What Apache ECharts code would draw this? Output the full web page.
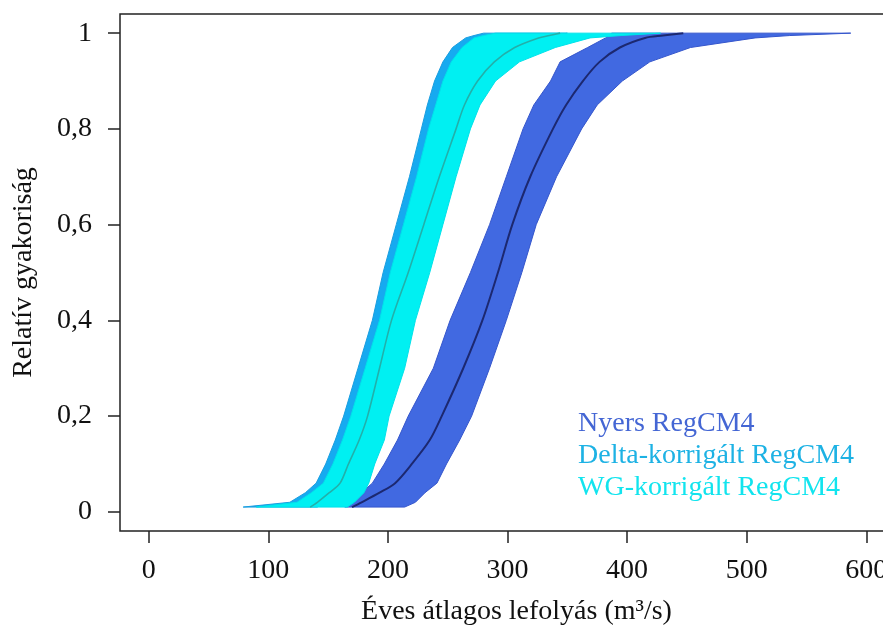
<!DOCTYPE html>
<html>
<head>
<meta charset="utf-8">
<script src="https://cdn.jsdelivr.net/npm/echarts@6/dist/echarts.min.js"></script>
<style>
  html, body { margin: 0; background: #fff; }
  #chart { width: 883px; height: 636px; }
</style>
</head>
<body>
<div id="chart"></div>
<script>
// relative frequency levels at which the band edges were read
const probs = [0.01, 0.02, 0.04, 0.06, 0.1, 0.15, 0.2, 0.3, 0.4, 0.5, 0.6, 0.7, 0.8, 0.85, 0.9, 0.94, 0.97, 0.99, 0.995, 1];

// Nyers RegCM4: left / right envelope of the ensemble and its mean curve (m3/s)
const nyersLow  = [164, 170, 178, 187, 197, 208, 217, 238, 252, 269, 285, 299, 313, 322, 336, 344, 367, 382, 385, 387];
const nyersHigh = [214, 223, 231, 241, 249, 260, 270, 285, 299, 312, 324, 341, 362, 375, 396, 419, 453, 507, 536, 587];
const nyersMean = [170, 178, 193, 206, 220, 235, 245, 263, 279, 292, 304, 319, 338, 349, 363, 377, 394, 415, 430, 447];

// Delta-korrigált RegCM4 (mostly hidden under the WG band)
const deltaLow  = [79, 118, 131, 140, 148, 156, 163, 175, 187, 196, 207, 218, 228, 233, 239, 246, 254, 265, 272, 280];
const deltaHigh = [141, 147, 157, 166, 173, 182, 189, 199, 209, 223, 236, 249, 263, 270, 281, 295, 312, 332, 341, 350];

// WG-korrigált RegCM4
const wgLow  = [90, 124, 136, 146, 154, 162, 169, 181, 193, 202, 213, 224, 234, 240, 246, 253, 262, 272, 280, 290];
const wgHigh = [166, 172, 180, 184, 189, 197, 201, 214, 223, 235, 246, 257, 269, 277, 290, 310, 340, 369, 395, 428];
const wgMean = [135, 141, 151, 160, 167, 176, 183, 193, 203, 217, 230, 243, 257, 264, 275, 289, 306, 326, 335, 344];

const xTicks = [0, 100, 200, 300, 400, 500, 600];
const yTicks = [0, 0.2, 0.4, 0.6, 0.8, 1];

const FONT = '"Liberation Serif", "Times New Roman", serif';

function band(name, low, high, fill, stroke) {
  return {
    type: 'custom',
    name: name,
    silent: true,
    clip: true,
    data: [[low[0], probs[0]]],
    renderItem: function (params, api) {
      const pts = [];
      for (let i = 0; i < probs.length; i++) pts.push(api.coord([low[i], probs[i]]));
      for (let i = probs.length - 1; i >= 0; i--) pts.push(api.coord([high[i], probs[i]]));
      return {
        type: 'polygon',
        shape: { points: pts },
        style: { fill: fill, stroke: stroke, lineWidth: 1 }
      };
    }
  };
}

function meanLine(name, vals, color, width) {
  return {
    type: 'line',
    name: name,
    silent: true,
    showSymbol: false,
    smooth: 0.3,
    data: probs.map((p, i) => [vals[i], p]),
    lineStyle: { color: color, width: width }
  };
}

const chart = echarts.init(document.getElementById('chart'), null, { renderer: 'canvas' });
chart.setOption({
  backgroundColor: '#fff',
  animation: false,
  grid: {
    left: 120, top: 14, right: -12, bottom: 105,
    show: true, borderColor: '#222', borderWidth: 1.5,
    containLabel: false, outerBoundsMode: 'none'
  },
  xAxis: {
    type: 'value', min: -24, max: 624,
    axisLine: { show: false, onZero: false },
    splitLine: { show: false },
    axisTick: { show: true, customValues: xTicks, length: 12, lineStyle: { color: '#222', width: 1.5 } },
    axisLabel: { customValues: xTicks, margin: 26, fontSize: 28, fontFamily: FONT, color: '#111' },
    name: 'Éves átlagos lefolyás (m³/s)',
    nameLocation: 'middle', nameGap: 67,
    nameTextStyle: { fontSize: 28, fontFamily: FONT, color: '#111', padding: [0, 0, 0, 18] }
  },
  yAxis: {
    type: 'value', min: -0.04, max: 1.04,
    axisLine: { show: false, onZero: false },
    splitLine: { show: false },
    axisTick: { show: true, customValues: yTicks, length: 12, lineStyle: { color: '#222', width: 1.5 } },
    axisLabel: {
      customValues: yTicks, margin: 28, fontSize: 28, fontFamily: FONT, color: '#111',
      formatter: v => String(v).replace('.', ',')
    },
    name: 'Relatív gyakoriság',
    nameLocation: 'middle', nameGap: 82,
    nameTextStyle: { fontSize: 28, fontFamily: FONT, color: '#111' }
  },
  series: [
    band('Nyers RegCM4', nyersLow, nyersHigh, '#4169E1', '#3556cc'),
    band('Delta-korrigált RegCM4', deltaLow, deltaHigh, '#16AAF0', '#1a9ee0'),
    band('WG-korrigált RegCM4', wgLow, wgHigh, '#00F0F2', '#00e2ea'),
    meanLine('Nyers átlag', nyersMean, '#1c2870', 2),
    meanLine('WG átlag', wgMean, '#22b0aa', 1.6)
  ],
  graphic: [
    { type: 'text', x: 578, y: 424, style: { text: 'Nyers RegCM4', fill: '#4466d4', font: '28px ' + FONT, verticalAlign: 'middle' } },
    { type: 'text', x: 578, y: 456, style: { text: 'Delta-korrigált RegCM4', fill: '#1db2e4', font: '28px ' + FONT, verticalAlign: 'middle' } },
    { type: 'text', x: 578, y: 488, style: { text: 'WG-korrigált RegCM4', fill: '#12e4ee', font: '28px ' + FONT, verticalAlign: 'middle' } }
  ]
});
</script>
</body>
</html>
